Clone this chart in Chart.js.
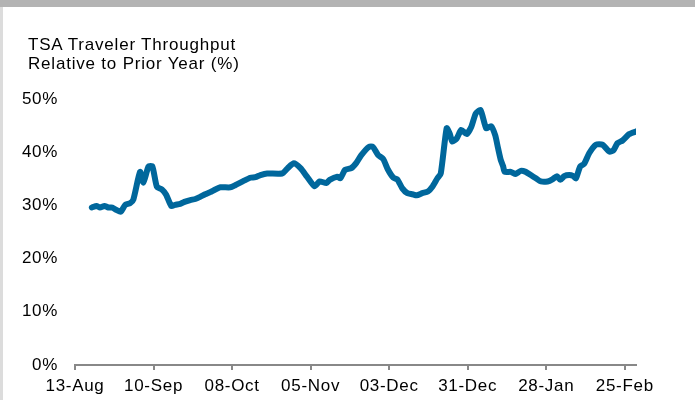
<!DOCTYPE html>
<html>
<head>
<meta charset="utf-8">
<script src="https://cdn.jsdelivr.net/npm/chart.js@4"></script>
<style>
  html, body { margin: 0; padding: 0; background: #fff; }
  #wrap { position: relative; width: 695px; height: 400px; overflow: hidden; }
  #topBar { position: absolute; left: 0; top: 0; width: 695px; height: 7px; background: #b3b3b3; }
  #leftBar { position: absolute; left: 0; top: 7px; width: 3px; height: 393px; background: #dcdcdc; }
  #title {
    position: absolute; left: 28px; top: 35px; letter-spacing: 0.8px;
    font-family: "Liberation Sans", Arial, sans-serif; font-size: 17px; line-height: 19px; color: #000;
  }
  canvas { position: absolute; left: 0; top: 0; }
</style>
</head>
<body>
<div id="wrap">
  <canvas id="tsaChart" width="695" height="400"></canvas>
  <div id="topBar"></div>
  <div id="leftBar"></div>
  <div id="title">TSA Traveler Throughput<br>Relative to Prior Year (%)</div>
</div>
<script>
// days since 13-Aug-2020
const dayOffsets = [
  6.0, 7.7, 8.9, 10.5, 11.9, 13.3, 14.9, 16.3, 17.9, 19.6,
  20.8, 23.2, 24.4, 26.2, 27.6, 29.2, 31.0, 32.5, 34.3, 35.7,
  37.5, 39.3, 41.1, 42.9, 44.6, 46.4, 48.2, 50.0, 51.8, 55.4,
  57.1, 60.1, 62.5, 64.3, 66.1, 68.5, 73.8, 75.8, 78.0, 80.4,
  82.7, 85.4, 87.2, 89.6, 90.8, 93.5, 94.6, 96.3, 98.5, 100.3,
  102.0, 104.8, 106.2, 108.0, 109.9, 111.5, 113.5, 114.9, 116.7, 118.5,
  120.3, 121.8, 123.8, 125.8, 127.4, 129.2, 130.4, 132.5, 133.6, 134.5,
  136.1, 137.7, 139.6, 141.3, 142.9, 144.6, 146.6, 148.3, 149.8, 150.8,
  151.8, 152.6, 153.2, 155.4, 157.1, 158.9, 160.7, 162.5, 164.3, 166.1,
  168.5, 170.2, 171.8, 173.0, 174.4, 176.2, 177.7, 178.6, 180.1, 181.5,
  183.3, 185.7, 188.1, 190.5, 192.0, 193.4, 195.2, 197.6, 200.0
];

// throughput relative to prior year, %
const throughput = [
  29.6, 29.9, 29.6, 29.9, 29.6, 29.6, 29.1, 28.8, 30.1, 30.4,
  31.1, 36.3, 34.3, 37.3, 37.3, 33.5, 33.0, 32.0, 29.9, 30.1,
  30.3, 30.7, 31.0, 31.2, 31.6, 32.1, 32.5, 33.0, 33.4, 33.4,
  33.8, 34.6, 35.2, 35.3, 35.7, 36.0, 36.0, 37.0, 37.9, 37.0,
  35.4, 33.6, 34.5, 34.2, 34.8, 35.4, 35.1, 36.7, 37.0, 38.0,
  39.4, 41.0, 41.0, 39.5, 38.7, 36.8, 35.2, 34.9, 33.2, 32.3,
  32.1, 31.9, 32.3, 32.6, 33.5, 35.1, 36.0, 44.5, 43.5, 42.0,
  42.6, 44.2, 43.4, 44.8, 47.3, 47.9, 44.5, 44.9, 43.2, 40.8,
  38.5, 37.4, 36.3, 36.3, 35.9, 36.5, 36.3, 35.7, 35.1, 34.5,
  34.5, 34.9, 35.5, 34.8, 35.5, 35.7, 35.5, 35.1, 37.3, 37.8,
  39.8, 41.4, 41.4, 40.1, 40.4, 41.7, 42.2, 43.4, 43.9
];

const tickLabels = ['13-Aug', '10-Sep', '08-Oct', '05-Nov', '03-Dec', '31-Dec', '28-Jan', '25-Feb'];

const points = dayOffsets.map((d, i) => ({ x: d, y: throughput[i] }));
const font = { family: "'Liberation Sans', Arial, sans-serif", size: 17 };

// the source chart's text is set a bit wide
const spacedText = {
  id: 'spacedText',
  beforeDraw: chart => { chart.ctx.letterSpacing = '0.7px'; }
};

new Chart(document.getElementById('tsaChart'), {
  type: 'line',
  data: {
    datasets: [{
      data: points,
      borderColor: '#00679c',
      borderWidth: 6,
      borderJoinStyle: 'round',
      borderCapStyle: 'round',
      pointRadius: 0,
      tension: 0.2,
      fill: false
    }]
  },
  plugins: [spacedText],
  options: {
    responsive: false,
    animation: false,
    layout: { padding: { top: 99, right: 59, bottom: 0, left: 0 } },
    plugins: { legend: { display: false }, tooltip: { enabled: false } },
    scales: {
      x: {
        type: 'linear',
        min: 0,
        max: 200,
        afterFit: s => { s.height = 35; },
        afterBuildTicks: s => { s.ticks = tickLabels.map((_, i) => ({ value: i * 28 })); },
        ticks: {
          color: '#000',
          font: font,
          padding: 6,
          maxRotation: 0,
          autoSkip: false,
          callback: v => tickLabels[Math.round(v / 28)]
        },
        grid: { drawOnChartArea: false, drawTicks: true, tickLength: 5, color: '#888', lineWidth: 2 },
        border: { display: true, color: '#888', width: 2 }
      },
      y: {
        min: 0,
        max: 50,
        afterFit: s => { s.width = 75; },
        ticks: {
          stepSize: 10,
          color: '#000',
          font: font,
          padding: 17,
          callback: v => v + '%'
        },
        grid: { display: false, drawTicks: false },
        border: { display: false }
      }
    }
  }
});
</script>
</body>
</html>
